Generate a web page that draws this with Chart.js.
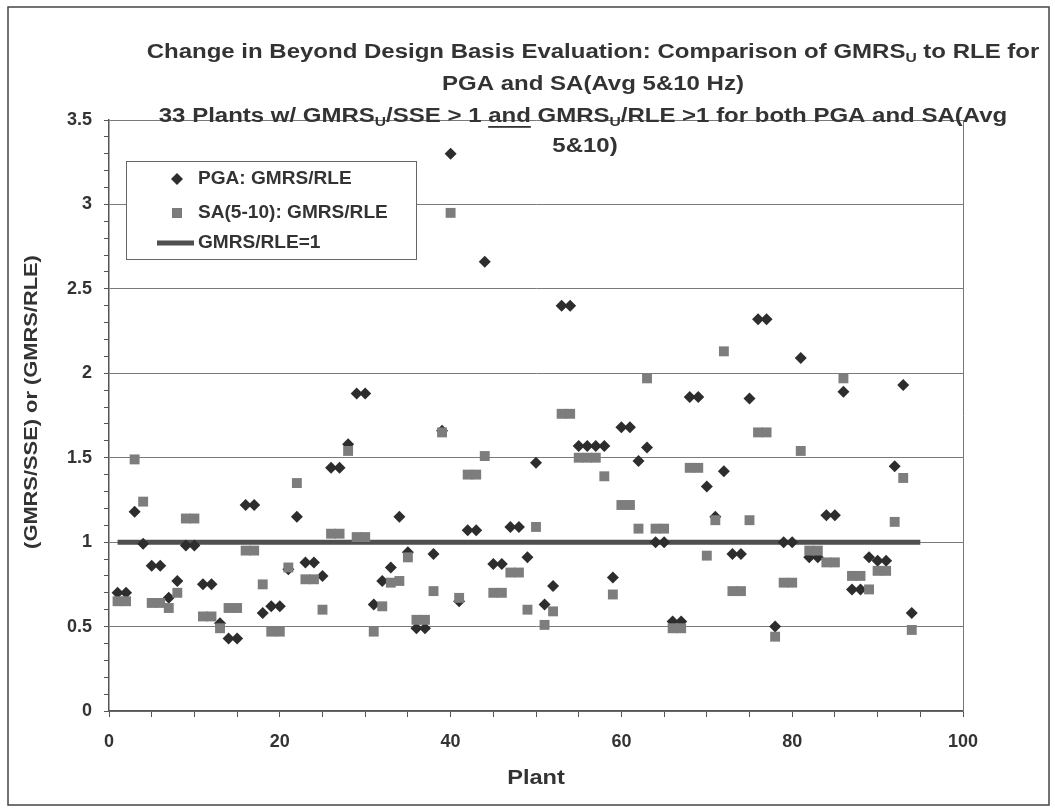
<!DOCTYPE html>
<html lang="en">
<head>
<meta charset="UTF-8">
<title>GMRS vs RLE - Beyond Design Basis</title>
<script src="https://cdn.jsdelivr.net/npm/chart.js@4.4.0/dist/chart.umd.min.js"></script>
<style>
  html, body { margin: 0; padding: 0; background: #fff; }
  #wrap { width: 1055px; height: 809px; }
</style>
</head>
<body>
<div id="wrap"><canvas id="plantChart" width="1055" height="809"></canvas></div>
<script>
// plant index on the x axis
const plants = [1, 2, 3, 4, 5, 6, 7, 8, 9, 10, 11, 12, 13, 14, 15, 16, 17, 18, 19, 20,
  21, 22, 23, 24, 25, 26, 27, 28, 29, 30, 31, 32, 33, 34, 35, 36, 37, 38, 39, 40,
  41, 42, 43, 44, 45, 46, 47, 48, 49, 50, 51, 52, 53, 54, 55, 56, 57, 58, 59, 60,
  61, 62, 63, 64, 65, 66, 67, 68, 69, 70, 71, 72, 73, 74, 75, 76, 77, 78, 79, 80,
  81, 82, 83, 84, 85, 86, 87, 88, 89, 90, 91, 92, 93, 94];

// PGA: GMRS/RLE (diamonds)
const pgaRatio = [0.70, 0.70, 1.18, 0.99, 0.86, 0.86, 0.67, 0.77, 0.98, 0.98,
  0.75, 0.75, 0.52, 0.43, 0.43, 1.22, 1.22, 0.58, 0.62, 0.62,
  0.84, 1.15, 0.88, 0.88, 0.80, 1.44, 1.44, 1.58, 1.88, 1.88,
  0.63, 0.77, 0.85, 1.15, 0.94, 0.49, 0.49, 0.93, 1.66, 3.30,
  0.65, 1.07, 1.07, 2.66, 0.87, 0.87, 1.09, 1.09, 0.91, 1.47,
  0.63, 0.74, 2.40, 2.40, 1.57, 1.57, 1.57, 1.57, 0.79, 1.68,
  1.68, 1.48, 1.56, 1.00, 1.00, 0.53, 0.53, 1.86, 1.86, 1.33,
  1.15, 1.42, 0.93, 0.93, 1.85, 2.32, 2.32, 0.50, 1.00, 1.00,
  2.09, 0.91, 0.91, 1.16, 1.16, 1.89, 0.72, 0.72, 0.91, 0.89,
  0.89, 1.45, 1.93, 0.58];

// SA(5-10): GMRS/RLE (squares)
const saRatio = [0.65, 0.65, 1.49, 1.24, 0.64, 0.64, 0.61, 0.70, 1.14, 1.14,
  0.56, 0.56, 0.49, 0.61, 0.61, 0.95, 0.95, 0.75, 0.47, 0.47,
  0.85, 1.35, 0.78, 0.78, 0.60, 1.05, 1.05, 1.54, 1.03, 1.03,
  0.47, 0.62, 0.76, 0.77, 0.91, 0.54, 0.54, 0.71, 1.65, 2.95,
  0.67, 1.40, 1.40, 1.51, 0.70, 0.70, 0.82, 0.82, 0.60, 1.09,
  0.51, 0.59, 1.76, 1.76, 1.50, 1.50, 1.50, 1.39, 0.69, 1.22,
  1.22, 1.08, 1.97, 1.08, 1.08, 0.49, 0.49, 1.44, 1.44, 0.92,
  1.13, 2.13, 0.71, 0.71, 1.13, 1.65, 1.65, 0.44, 0.76, 0.76,
  1.54, 0.95, 0.95, 0.88, 0.88, 1.97, 0.80, 0.80, 0.72, 0.83,
  0.83, 1.12, 1.38, 0.48];

// GMRS/RLE = 1 reference line
const refLineX = [1, 95];
const refLineY = [1, 1];

const xLabelEvery = 20;   // labelled x ticks: 0, 20, ... 100
const yLabelEvery = 0.5;  // labelled y ticks: 0, 0.5, ... 3.5

const TEXT = '#333333';
const FONT = '"Liberation Sans", Arial, sans-serif';

const isMultiple = (v, step) => Math.abs(v / step - Math.round(v / step)) < 1e-6;

function toPoints(xs, ys) {
  return xs.map((x, i) => ({ x: x, y: ys[i] }));
}

// the scanned original has slightly wide lettering, so text is stretched a bit
function wideText(ctx, text, x, y, sx) {
  ctx.save();
  ctx.translate(x, y);
  ctx.scale(sx, 1);
  ctx.fillText(text, 0, 0);
  ctx.restore();
}

// title lines, drawn as runs so the subscript U and underline survive
const titleLines = [
  { cx: 593, cy: 52, runs: [{ t: 'Change in Beyond Design Basis Evaluation: Comparison of GMRS' }, { t: 'U', sub: true }, { t: ' to RLE for' }] },
  { cx: 593, cy: 84, runs: [{ t: 'PGA and SA(Avg 5&10 Hz)' }] },
  { cx: 583, cy: 116, runs: [{ t: '33 Plants w/ GMRS' }, { t: 'U', sub: true }, { t: '/SSE > 1 ' }, { t: 'and', u: true },
    { t: ' GMRS' }, { t: 'U', sub: true }, { t: '/RLE >1 for both PGA and SA(Avg' }] },
  { cx: 585, cy: 146, runs: [{ t: '5&10)' }] }
];

const textPlugin = {
  id: 'titleFrame',
  afterDraw(chart) {
    const ctx = chart.ctx;
    const area = chart.chartArea;
    ctx.save();
    // outer frame
    ctx.strokeStyle = '#444';
    ctx.lineWidth = 1.5;
    ctx.strokeRect(8, 7, 1041, 798);
    // right edge of the plot
    ctx.strokeStyle = '#777';
    ctx.lineWidth = 1;
    ctx.beginPath();
    ctx.moveTo(area.right + 0.5, area.top);
    ctx.lineTo(area.right + 0.5, area.bottom);
    ctx.stroke();

    ctx.fillStyle = TEXT;
    ctx.textBaseline = 'middle';
    ctx.textAlign = 'left';
    const sx = 1.2;
    const big = 'bold 20px ' + FONT;
    const small = 'bold 13px ' + FONT;
    titleLines.forEach(line => {
      let w = 0;
      line.runs.forEach(r => { ctx.font = r.sub ? small : big; w += ctx.measureText(r.t).width * sx; });
      let x = line.cx - w / 2;
      line.runs.forEach(r => {
        ctx.font = r.sub ? small : big;
        const rw = ctx.measureText(r.t).width * sx;
        wideText(ctx, r.t, x, r.sub ? line.cy + 6 : line.cy, sx);
        if (r.u) ctx.fillRect(x, line.cy + 10, rw, 1.8);
        x += rw;
      });
    });

    // axis titles
    ctx.textAlign = 'center';
    ctx.font = 'bold 20px ' + FONT;
    wideText(ctx, 'Plant', (area.left + area.right) / 2, 778, 1.18);
    ctx.save();
    ctx.translate(32, 402);
    ctx.rotate(-Math.PI / 2);
    ctx.font = 'bold 19px ' + FONT;
    wideText(ctx, '(GMRS/SSE) or (GMRS/RLE)', 0, 0, 1.15);
    ctx.restore();
    ctx.restore();
  }
};

const legendPlugin = {
  id: 'boxLegend',
  afterDraw(chart) {
    const ctx = chart.ctx;
    const ds = chart.data.datasets;
    ctx.save();
    ctx.fillStyle = '#fff';
    ctx.fillRect(126, 161, 291, 99);
    ctx.strokeStyle = '#666';
    ctx.lineWidth = 1;
    ctx.strokeRect(126.5, 161.5, 290, 98);
    ctx.font = 'bold 18px ' + FONT;
    ctx.textBaseline = 'middle';
    ctx.textAlign = 'left';
    const rows = [179, 213, 243];
    ds.forEach((d, i) => {
      const y = rows[i];
      if (d.showLine) {
        ctx.strokeStyle = d.borderColor;
        ctx.lineWidth = d.borderWidth;
        ctx.beginPath();
        ctx.moveTo(157, y);
        ctx.lineTo(194, y);
        ctx.stroke();
      } else {
        Chart.helpers.drawPoint(ctx, { pointStyle: d.pointStyle, radius: d.pointRadius, borderWidth: 0 }, 177, y);
        ctx.fillStyle = d.backgroundColor;
        ctx.fill();
      }
      ctx.fillStyle = TEXT;
      wideText(ctx, d.label, 198, y, 1.06);
    });
    ctx.restore();
  }
};

new Chart(document.getElementById('plantChart'), {
  type: 'scatter',
  data: {
    datasets: [
      {
        label: 'PGA: GMRS/RLE',
        data: toPoints(plants, pgaRatio),
        pointStyle: 'rectRot',
        pointRadius: 6,
        backgroundColor: '#2d2d2d',
        borderWidth: 0,
        order: 2
      },
      {
        label: 'SA(5-10): GMRS/RLE',
        data: toPoints(plants, saRatio),
        pointStyle: 'rect',
        pointRadius: 7,
        backgroundColor: '#7d7d7d',
        borderWidth: 0,
        order: 1
      },
      {
        label: 'GMRS/RLE=1',
        type: 'line',
        data: toPoints(refLineX, refLineY),
        showLine: true,
        borderColor: '#4f4f4f',
        borderWidth: 5,
        pointRadius: 0,
        order: 3
      }
    ]
  },
  options: {
    responsive: false,
    animation: false,
    events: [],
    layout: { padding: { left: 0, right: 92, top: 120, bottom: 0 } },
    plugins: { legend: { display: false }, title: { display: false }, tooltip: { enabled: false } },
    scales: {
      x: {
        type: 'linear',
        min: 0,
        max: 100,
        afterFit: s => { s.height = 98; },
        ticks: {
          stepSize: 5,
          autoSkip: false,
          maxRotation: 0,
          padding: 14,
          color: TEXT,
          font: { family: FONT, size: 18, weight: 'bold' },
          callback: v => isMultiple(v, xLabelEvery) ? String(v) : ''
        },
        grid: { drawOnChartArea: false, drawTicks: true, tickLength: 6, tickColor: '#555' },
        border: { color: '#555', width: 1.5 }
      },
      y: {
        min: 0,
        max: 3.5,
        afterFit: s => { s.width = 109; },
        ticks: {
          stepSize: 0.1,
          autoSkip: false,
          padding: 12,
          color: TEXT,
          font: { family: FONT, size: 18, weight: 'bold' },
          callback: v => isMultiple(v, yLabelEvery) ? String(Math.round(v * 10) / 10) : ''
        },
        grid: {
          color: c => (c.tick && isMultiple(c.tick.value, yLabelEvery)) ? '#7a7a7a' : 'rgba(0,0,0,0)',
          lineWidth: 1,
          tickLength: 5,
          tickColor: '#555'
        },
        border: { color: '#555', width: 1.5 }
      }
    }
  },
  plugins: [textPlugin, legendPlugin]
});
</script>
</body>
</html>
